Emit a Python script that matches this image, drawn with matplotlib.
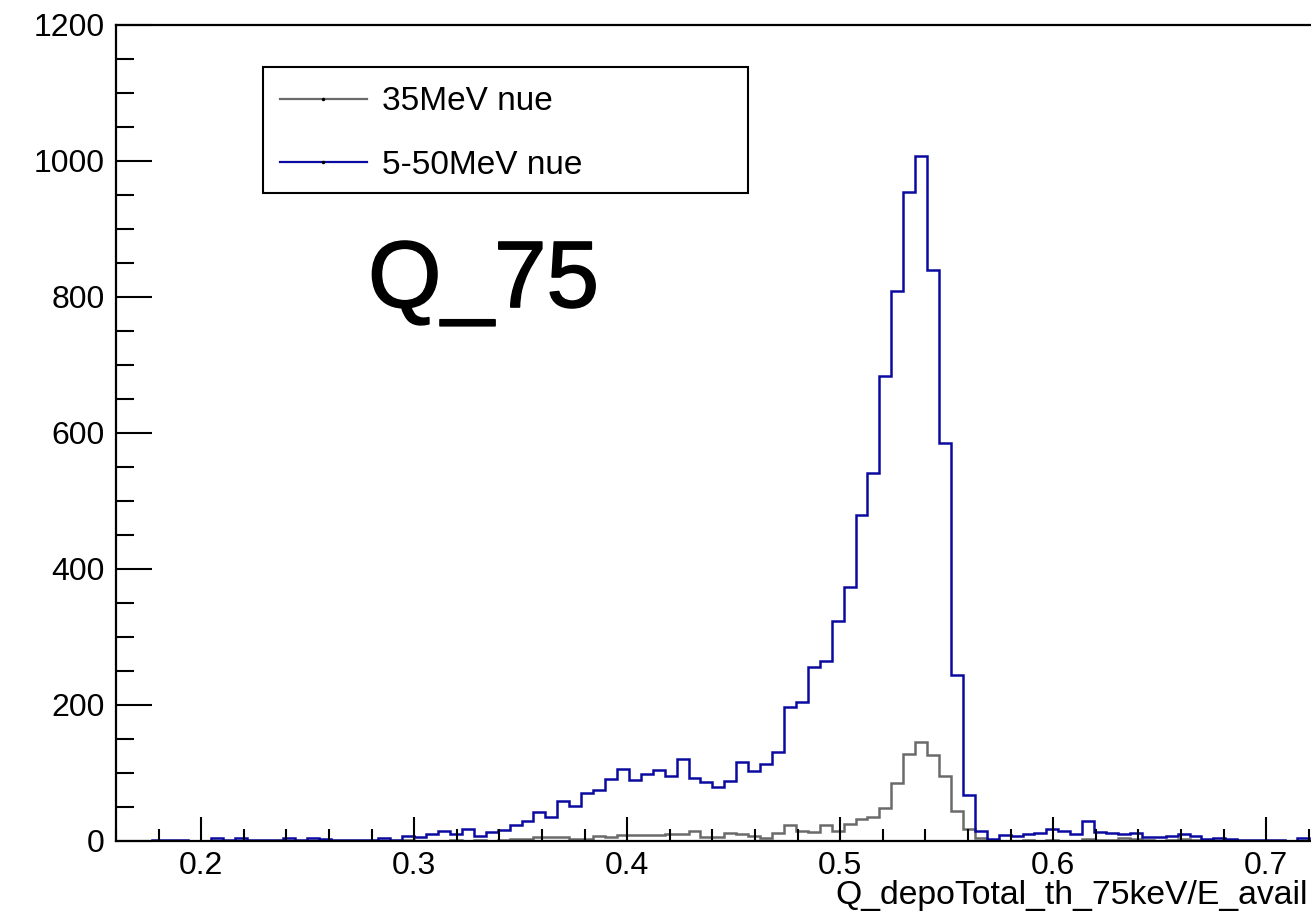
import numpy as np
import matplotlib
matplotlib.use("Agg")
import matplotlib.pyplot as plt
import matplotlib.patheffects as pe
from matplotlib.patches import Rectangle
from matplotlib.ticker import MultipleLocator

plt.rcParams['font.family'] = ['Liberation Sans', 'DejaVu Sans']

# histogram binning (100 bins)
x_min, x_max, n_bins = 0.16, 0.72, 100
edges = np.linspace(x_min, x_max, n_bins + 1)

# 5-50MeV nue (blue)
nue_5_50 = [0, 0, 0, 1, 1, 1, 0, 0, 4, 1,
            4, 1, 1, 1, 4, 1, 5, 3, 1, 1,
            2, 1, 5, 2, 7, 6, 10, 15, 10, 18,
            8, 13, 16, 24, 30, 42, 36, 59, 52, 71,
            75, 91, 106, 89, 99, 105, 96, 121, 92, 87,
            79, 88, 116, 103, 113, 131, 197, 205, 256, 265,
            323, 373, 479, 541, 684, 809, 954, 1007, 840, 585,
            244, 67, 14, 3, 9, 7, 11, 12, 18, 15,
            11, 30, 13, 12, 11, 12, 6, 6, 8, 10,
            8, 3, 5, 3, 2, 2, 1, 1, 0, 4]

# 35MeV nue (gray)
nue_35 = [0, 0, 0, 0, 0, 0, 0, 0, 0, 0,
          0, 0, 0, 0, 0, 0, 0, 0, 0, 0,
          0, 0, 0, 0, 1, 0, 0, 0, 1, 0,
          1, 0, 1, 3, 3, 6, 6, 6, 3, 3,
          8, 6, 9, 9, 9, 9, 11, 10, 15, 6,
          6, 12, 11, 7, 5, 12, 23, 14, 13, 24,
          14, 25, 33, 36, 49, 86, 128, 146, 126, 95,
          44, 18, 4, 1, 0, 0, 1, 0, 2, 0,
          0, 3, 1, 1, 4, 3, 1, 0, 1, 3,
          2, 1, 0, 1, 0, 0, 0, 0, 0, 0]

labels = ['35MeV nue', '5-50MeV nue']
colors = ['#6a6a6a', '#0a0aa0']

W, H = 1311, 917
fig = plt.figure(figsize=(W / 100, H / 100), dpi=100)

# axes: x from 0.16 at px 116, 2130 px per unit; y 0 at px 841, 0.68 px per unit
ax_left = 116 / W
ax_bottom = (H - 841) / H
ax_w = (0.73 - x_min) * 2130 / W
ax_h = 1200 * 0.68 / H
ax = fig.add_axes([ax_left, ax_bottom, ax_w, ax_h])

ax.stairs(nue_35, edges, color=colors[0], lw=1.8, baseline=0, label=labels[0])
ax.stairs(nue_5_50, edges, color=colors[1], lw=1.8, baseline=0, label=labels[1])

ax.set_xlim(x_min, 0.73)
ax.set_ylim(0, 1200)

ax.xaxis.set_major_locator(MultipleLocator(0.1))
ax.xaxis.set_minor_locator(MultipleLocator(0.02))
ax.yaxis.set_major_locator(MultipleLocator(200))
ax.yaxis.set_minor_locator(MultipleLocator(50))
ax.xaxis.set_major_formatter(plt.FuncFormatter(lambda v, p: f"{v:.1f}"))

ax.tick_params(axis='x', which='major', direction='in', length=17, width=1.5,
               labelsize=23, pad=7)
ax.tick_params(axis='x', which='minor', direction='in', length=8.5, width=1.5)
ax.tick_params(axis='y', which='major', direction='in', length=26, width=1.5,
               labelsize=23, pad=8)
ax.tick_params(axis='y', which='minor', direction='in', length=13, width=1.5)

for s in ax.spines.values():
    s.set_linewidth(1.6)
ax.spines['right'].set_visible(False)

# x axis title, right aligned at the edge (ROOT style)
fig.text(1308 / W, (H - 904) / H, 'Q_depoTotal_th_75keV/E_avail',
         ha='right', va='baseline', fontsize=24.3)

# legend box
fig.add_artist(Rectangle((263 / W, (H - 193) / H), (748 - 263) / W, 126 / H,
                         transform=fig.transFigure, fill=False,
                         edgecolor='black', lw=1.5))
handles = [plt.Line2D([], [], color=c, lw=1.6, marker='.', markersize=3,
                      markerfacecolor='black', markeredgecolor='black')
           for c in colors]
fig.legend(handles, labels, loc='center left', frameon=False,
           bbox_to_anchor=(280 / W, 1 - 133.5 / H), fontsize=24,
           borderpad=0, handlelength=2.6, handletextpad=0.45,
           labelspacing=0.97, borderaxespad=0)

fig.text(368 / W, (H - 307) / H, 'Q_75', fontsize=68, ha='left', va='baseline',
         path_effects=[pe.withStroke(linewidth=1.2, foreground='black')])

fig.savefig('out.png', dpi=100)
